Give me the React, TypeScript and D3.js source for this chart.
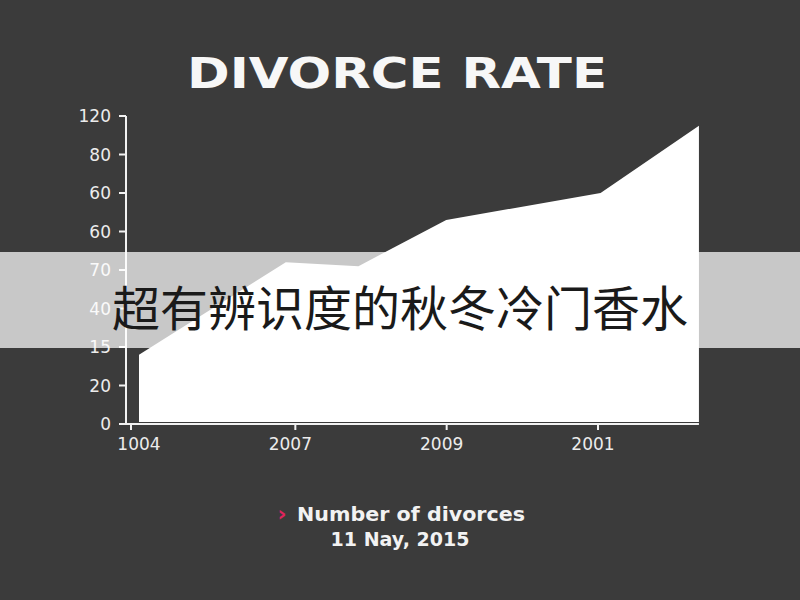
import React from 'react';
import * as d3 from 'd3';

// tick labels as printed on the chart (bottom to top)
const yTickLabels = ['0', '20', '15', '40', '70', '60', '60', '80', '120'];
const xTickLabels = ['1004', '2007', '2009', '2001'];

// area series: position along the x axis (in label periods) and value
const seriesX = [0, 0.97, 1.45, 2.03, 3.05, 3.7];
const seriesY = [36, 84, 82, 106, 120, 155];

const W = 800;
const H = 600;

export default function App() {
  const x = d3.scaleLinear().domain([0, 3]).range([139, 593]);
  // each tick step is 20 units; labels are printed as they appear
  const y = d3.scaleLinear().domain([0, 160]).range([424, 116]);
  const yTicks = d3.range(0, 161, 20);

  const pts = seriesX.map((v, i) => ({ x: v, y: seriesY[i] }));
  const area = d3
    .area<{ x: number; y: number }>()
    .x(d => x(d.x))
    .y0(y(0) - 2)
    .y1(d => y(d.y));

  const axisColor = '#f2f2f2';
  const font = "'DejaVu Sans', Arial, sans-serif";

  return (
    <svg width={W} height={H} style={{ position: 'absolute', left: 0, top: 0, display: 'block' }}>
      <rect width={W} height={H} fill="#3b3b3b" />

      <text
        x={397}
        y={73}
        fill="#f7f7f7"
        fontFamily={font}
        fontWeight="bold"
        fontSize={42}
        textAnchor="middle"
        dominantBaseline="central"
        textLength={420}
        lengthAdjust="spacingAndGlyphs"
      >
        DIVORCE RATE
      </text>

      <path d={area(pts) || ''} fill="#ffffff" />

      {/* y axis */}
      <line x1={126} x2={126} y1={y(160)} y2={y(0)} stroke={axisColor} strokeWidth={2} />
      {yTicks.map((t, i) => (
        <g key={t}>
          <line x1={119} x2={126} y1={y(t)} y2={y(t)} stroke={axisColor} strokeWidth={2} />
          <text
            x={111}
            y={y(t)}
            fill="#ececec"
            fontFamily={font}
            fontSize={17}
            textAnchor="end"
            dominantBaseline="central"
          >
            {yTickLabels[i]}
          </text>
        </g>
      ))}

      {/* x axis */}
      <line x1={120} x2={x(3.7)} y1={y(0)} y2={y(0)} stroke={axisColor} strokeWidth={2} />
      {xTickLabels.map((l, i) => (
        <g key={l + i}>
          <line
            x1={x(i) + (i === 0 ? -8 : 5)}
            x2={x(i) + (i === 0 ? -8 : 5)}
            y1={y(0)}
            y2={y(0) + 6}
            stroke={axisColor}
            strokeWidth={2}
          />
          <text
            x={x(i)}
            y={y(0) + 20}
            fill="#ececec"
            fontFamily={font}
            fontSize={17}
            textAnchor="middle"
            dominantBaseline="central"
          >
            {l}
          </text>
        </g>
      ))}

      {/* legend */}
      <text x={282} y={513} fill="#e0245e" fontFamily={font} fontWeight="bold" fontSize={22} textAnchor="middle" dominantBaseline="central">
        ›
      </text>
      <text x={297} y={514} fill="#f2f2f2" fontFamily={font} fontWeight="bold" fontSize={19} dominantBaseline="central" textLength={228} lengthAdjust="spacingAndGlyphs">
        Number of divorces
      </text>
      <text x={400} y={539} fill="#f2f2f2" fontFamily={font} fontWeight="bold" fontSize={19} textAnchor="middle" dominantBaseline="central">
        11 Nay, 2015
      </text>

      {/* overlay band */}
      <rect x={0} y={252} width={W} height={96} fill="#ffffff" opacity={0.72} />
      <text
        x={400}
        y={305}
        fill="#1a1a1a"
        fontFamily="'Noto Sans CJK SC', sans-serif"
        fontSize={48}
        textAnchor="middle"
        dominantBaseline="central"
      >
        超有辨识度的秋冬冷门香水
      </text>
    </svg>
  );
}
